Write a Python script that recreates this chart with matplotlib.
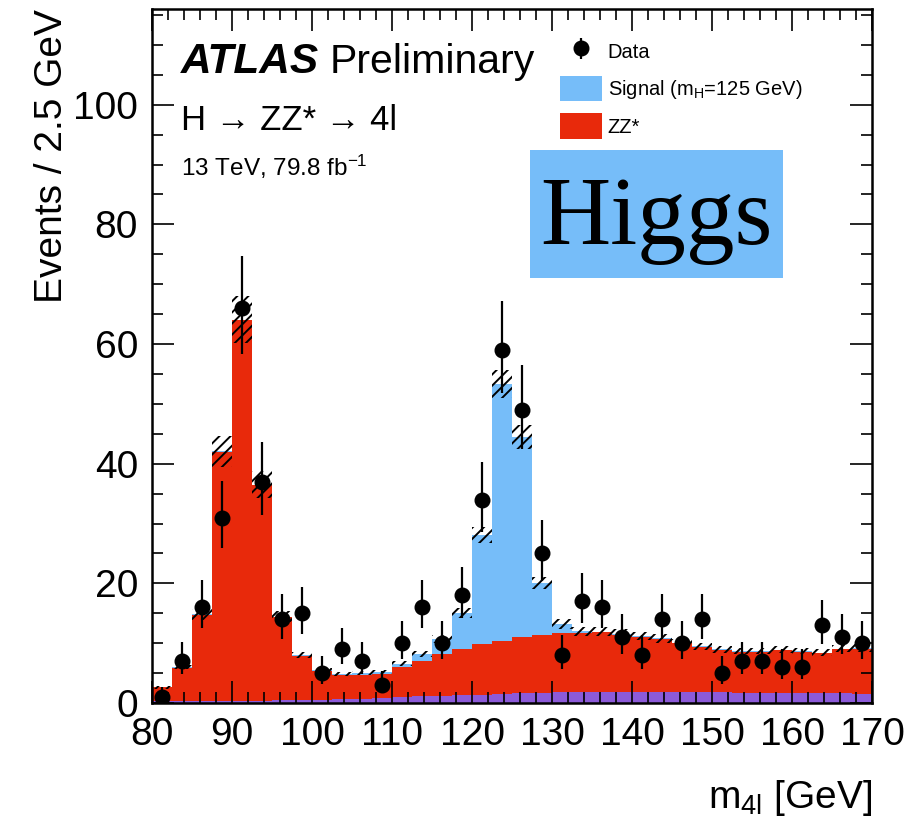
import numpy as np
import matplotlib
matplotlib.use("Agg")
import matplotlib.pyplot as plt
from matplotlib.patches import Patch, Rectangle
from matplotlib.ticker import MultipleLocator


# ---------------------------------------------------------------
# binning: 2.5 GeV bins from 80 to 170 GeV
# ---------------------------------------------------------------
M_LO, M_HI, BIN_W = 80.0, 170.0, 2.5

# observed events per bin
data_counts = [1, 7, 16, 31, 66, 37, 14, 15, 5, 9, 7, 3,
               10, 16, 10, 18, 34, 59, 49, 25, 8, 17, 16, 11,
               8, 14, 10, 14, 5, 7, 7, 6, 6, 13, 11, 10]

# expected events per bin, by process
other_bkg = [0.3, 0.3, 0.3, 0.35, 0.4, 0.4, 0.45, 0.5, 0.55, 0.65, 0.75, 0.9,
             1.0, 1.1, 1.2, 1.3, 1.4, 1.5, 1.6, 1.7, 1.8, 1.85, 1.9, 1.9,
             1.9, 1.85, 1.85, 1.8, 1.8, 1.75, 1.7, 1.7, 1.65, 1.6, 1.6, 1.55]

zz_bkg = [2.3, 5.6, 14.4, 41.65, 63.6, 36.0, 13.85, 7.4, 4.85, 4.05, 3.95, 3.9,
          5.0, 6.0, 7.0, 7.8, 8.4, 8.9, 9.4, 9.6, 9.9, 9.85, 9.9, 9.5,
          9.2, 8.85, 8.15, 7.6, 7.1, 6.85, 6.9, 7.1, 6.95, 6.7, 7.4, 7.55]

signal = [0.0, 0.1, 0.1, 0.1, 0.1, 0.1, 0.1, 0.1, 0.1, 0.1, 0.3, 0.4,
          0.6, 1.1, 2.5, 5.9, 18.3, 42.9, 33.5, 8.7, 1.5, 0.3, 0.1, 0.2,
          0.1, 0.1, 0.1, 0.1, 0.1, 0.1, 0.1, 0.1, 0.1, 0.1, 0.1, 0.1]

# total systematic uncertainty on the prediction
pred_unc = [0.2, 0.4, 0.9, 2.6, 3.9, 2.3, 0.9, 0.5, 0.4, 0.35, 0.35, 0.35,
            0.45, 0.5, 0.6, 0.8, 1.4, 2.4, 2.0, 1.0, 0.8, 0.75, 0.75, 0.75,
            0.7, 0.7, 0.65, 0.6, 0.6, 0.55, 0.55, 0.55, 0.55, 0.55, 0.6, 0.6]


# ---------------------------------------------------------------
# style
# ---------------------------------------------------------------
FONT = ["Liberation Sans", "DejaVu Sans"]
plt.rcParams.update({
    "font.family": FONT,
    "mathtext.fontset": "custom",
    "mathtext.rm": "Liberation Sans",
    "mathtext.it": "Liberation Sans:italic",
    "mathtext.bf": "Liberation Sans:bold",
    "hatch.linewidth": 1.4,
    "axes.linewidth": 1.8,
})

COL_SIGNAL = "#76bdf9"
COL_ZZ = "#e8290b"
COL_OTHER = "#8c5ad8"

edges = np.arange(M_LO, M_HI + BIN_W / 2, BIN_W)
centers = 0.5 * (edges[:-1] + edges[1:])

n = np.array(data_counts, dtype=float)
top_other = np.array(other_bkg)
top_zz = top_other + np.array(zz_bkg)
top_total = top_zz + np.array(signal)
unc = np.array(pred_unc)

# Poisson error bars on the data
err_hi = np.sqrt(n + 0.25) + 0.5
err_lo = np.sqrt(n + 0.25) - 0.5

fig = plt.figure(figsize=(9.13, 8.27), dpi=100)
ax = fig.add_axes([152 / 913, 1 - 703 / 827, 720 / 913, 694 / 827])

# stacked prediction
ax.stairs(top_other, edges, baseline=0, fill=True, color=COL_OTHER, lw=0)
ax.stairs(top_zz, edges, baseline=top_other, fill=True, color=COL_ZZ, lw=0)
ax.stairs(top_total, edges, baseline=top_zz, fill=True, color=COL_SIGNAL, lw=0)

# hatched uncertainty band
ax.bar(centers, 2 * unc, bottom=top_total - unc, width=BIN_W,
       fill=False, hatch="///", edgecolor="black", linewidth=0, zorder=3)

# data
h_data = ax.errorbar(centers, n, yerr=[err_lo, err_hi], fmt="o",
                     color="black", ms=10.5, elinewidth=1.6, capsize=0,
                     zorder=5)

ax.set_xlim(M_LO, M_HI)
ax.set_ylim(0, 116)

ax.xaxis.set_major_locator(MultipleLocator(10))
ax.xaxis.set_minor_locator(MultipleLocator(2))
ax.yaxis.set_major_locator(MultipleLocator(20))
ax.yaxis.set_minor_locator(MultipleLocator(5))
ax.tick_params(which="both", direction="in", top=True, right=True,
               width=1.2, labelsize=28)
ax.tick_params(which="major", length=16)
ax.tick_params(which="minor", length=8)
ax.tick_params(axis="x", pad=10)
ax.tick_params(axis="y", pad=10)

ax.set_xlabel(r"m$_{\mathregular{4l}}$ [GeV]", fontsize=28, loc="right",
              labelpad=18)
ax.set_ylabel("Events / 2.5 GeV", fontsize=28, loc="top", labelpad=2)

# labels
ax.text(0.04, 0.908, "ATLAS", transform=ax.transAxes, fontsize=30.5,
        fontweight="bold", style="italic", va="baseline")
ax.text(0.247, 0.908, "Preliminary", transform=ax.transAxes, fontsize=29.5,
        va="baseline")
ax.text(0.04, 0.825, "H \u2192 ZZ* \u2192 4l", transform=ax.transAxes,
        fontsize=25, va="baseline")
ax.text(0.04, 0.759, r"13 TeV, 79.8 fb$^{\mathregular{-1}}$",
        transform=ax.transAxes, fontsize=17.5, va="baseline")

# legend
handles = [
    h_data,
    Patch(facecolor=COL_SIGNAL, edgecolor="none"),
    Patch(facecolor=COL_ZZ, edgecolor="none"),
]
labels = [
    "Data",
    r"Signal (m$_{\mathregular{H}}$=125 GeV)",
    "ZZ*",
]
ax.legend(handles, labels, loc="upper left", bbox_to_anchor=(0.566, 0.957),
          frameon=False, fontsize=14.5, handlelength=2.1, handleheight=1.55,
          handletextpad=0.3, labelspacing=0.6, borderpad=0,
          borderaxespad=0)

# "Higgs" tag box
ax.add_patch(Rectangle((0.525, 0.612), 0.351, 0.185, transform=ax.transAxes,
                       facecolor=COL_SIGNAL, edgecolor="none", zorder=10))
ax.text(0.700, 0.695, "Higgs", transform=ax.transAxes, fontsize=70,
        family="Liberation Serif", ha="center", va="center", zorder=11)

fig.savefig("out.png", dpi=100)
